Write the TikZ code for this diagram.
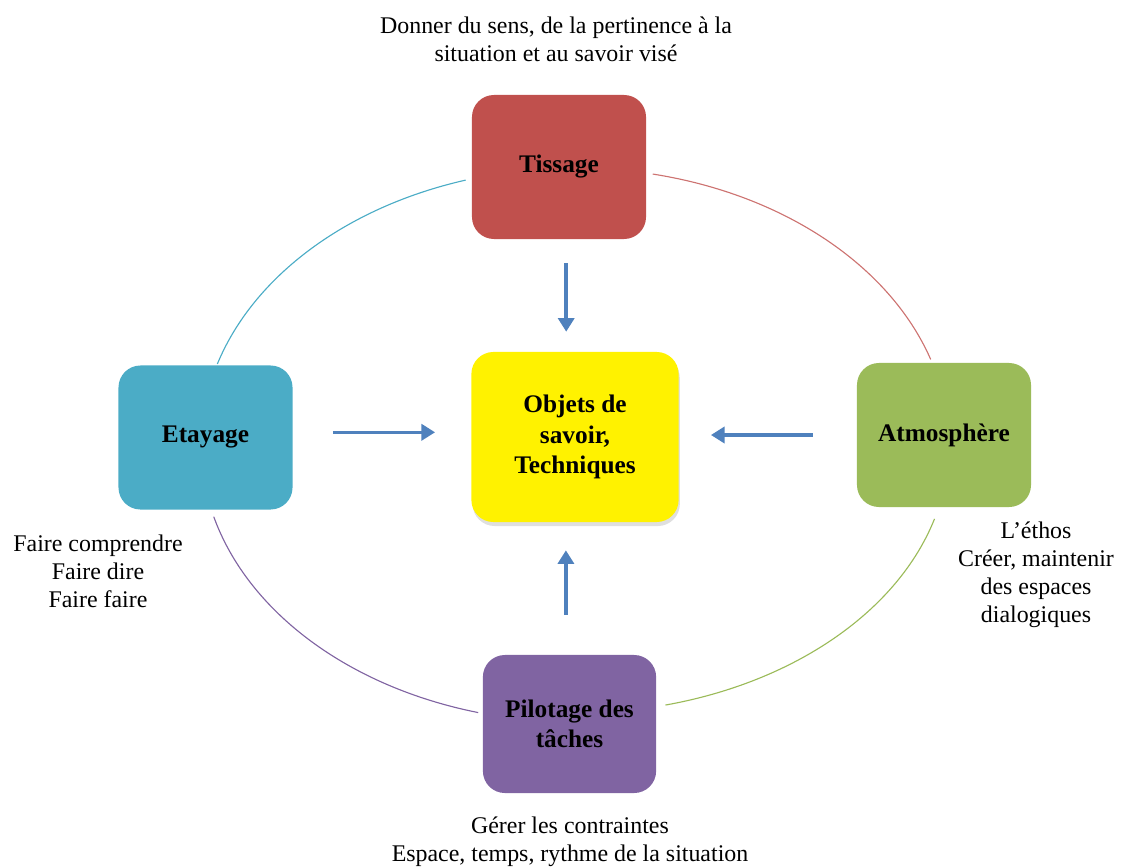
\documentclass[tikz,border=0pt]{standalone}
\usepackage{fontspec}
\setmainfont{Liberation Serif}
\usetikzlibrary{calc,positioning,arrows.meta,shadows}

\definecolor{tisscol}{HTML}{C0504D}
\definecolor{etaycol}{HTML}{4BACC6}
\definecolor{atmocol}{HTML}{9BBB59}
\definecolor{pilocol}{HTML}{8064A2}
\definecolor{flechecol}{HTML}{4F81BD}

\tikzset{
	boite/.style={rounded corners=0.55cm,inner sep=0pt,align=center,
		font=\fontsize{18}{21.5}\selectfont\bfseries,
		minimum width=4.35cm,minimum height=3.6cm},
	texte/.style={align=center,font=\fontsize{17}{19.8}\selectfont},
	fleche/.style={draw=flechecol,line width=2.5pt,
		-{Triangle[length=3.4mm,width=4mm]}},
	arc/.style={line width=0.8pt}
}

\begin{document}
\begin{tikzpicture}[x=0.025cm,y=-0.025cm]
			\useasboundingbox (0,0) rectangle (1123,867);
			% ellipse des arcs
			\coordinate (c) at (575,445);
			\draw[arc,color=etaycol] ($(c)+(197:374 and 277)$) arc[start angle=197,end angle=253,x radius=374,y radius=277];
			\draw[arc,color=tisscol!80] ($(c)+(282:374 and 277)$) arc[start angle=282,end angle=342,x radius=374,y radius=277];
			\draw[arc,color=atmocol] ($(c)+(16:374 and 268)$) arc[start angle=16,end angle=76,x radius=374,y radius=268];
			\draw[arc,color=pilocol] ($(c)+(105:374 and 277)$) arc[start angle=105,end angle=165,x radius=374,y radius=277];
			% boites
			\node[boite,fill=tisscol] (tissage) at (559,167) {Tissage};
			\node[boite,fill=yellow,minimum width=5.18cm,minimum height=4.25cm,
				drop shadow={shadow xshift=0.03cm,shadow yshift=-0.1cm,opacity=0.25}]
				(objets) at (575,437) {Objets de\\savoir,\\Techniques};
			\node[boite,fill=etaycol] (etayage) at (205.5,437.5) {Etayage};
			\node[boite,fill=atmocol] (atmos) at (944,435) {Atmosphère};
			\node[boite,fill=pilocol,minimum width=4.33cm,minimum height=3.45cm] (pilotage) at (569.5,724) {Pilotage des\\tâches};
			% fleches
			\draw[fleche,shorten <=0.6cm,shorten >=0.5cm] ([xshift=0.18cm]tissage.south) -- ([xshift=0.18cm]tissage.south |- objets.north);
			\draw[fleche,shorten <=1.0cm,shorten >=0.9cm] ([yshift=0.13cm]etayage.east) -- ([yshift=0.13cm]etayage.east -| objets.west);
			\draw[fleche,shorten <=1.1cm,shorten >=0.8cm] (atmos.west) -- (atmos.west -| objets.east);
			\draw[fleche,shorten <=1.0cm,shorten >=0.7cm] ([xshift=-0.09cm]pilotage.north) -- ([xshift=-0.09cm]pilotage.north |- objets.south);
			% textes
			\node[texte] (sens) at (556,39) {Donner du sens, de la pertinence à la\\situation et au savoir visé};
			\node[texte] (faire) at (98,571) {Faire comprendre\\Faire dire\\Faire faire};
			\node[texte] (ethos) at (1036,575) {L’éthos\\Créer, maintenir\\des espaces\\dialogiques};
			\node[texte] (gerer) at (570,842) {Gérer les contraintes\\Espace, temps, rythme de la situation};
		\end{tikzpicture}
\end{document}
